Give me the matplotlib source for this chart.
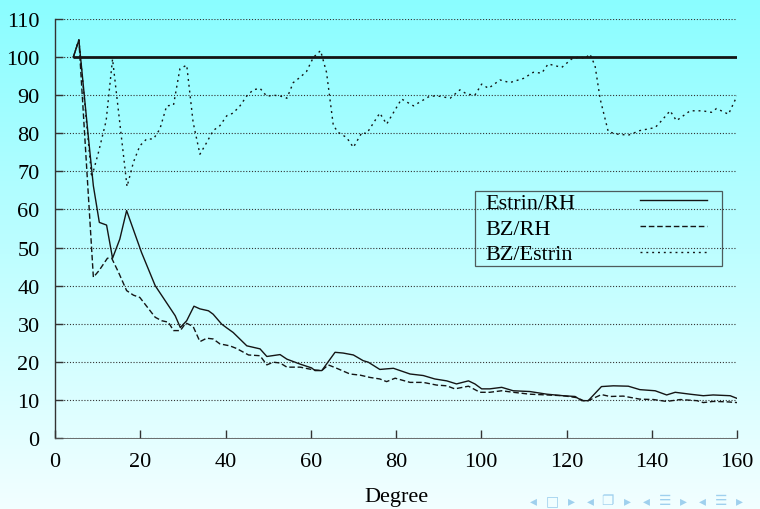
import numpy as np
import matplotlib
matplotlib.use("Agg")
import matplotlib.pyplot as plt
from matplotlib.lines import Line2D

# ---------------- data ----------------
estrin_rh_x = [4.3, 5.6, 7.8, 9.0, 10.4, 12.1, 13.5, 15.2, 16.8, 20.3, 23.5, 28.2, 29.4,
               30.9, 32.6, 34.0, 36.0, 37.1, 39.1, 40.3, 41.8, 45.0, 48.1, 49.7, 52.8,
               54.4, 57.5, 60.2, 61.0, 62.6, 65.7, 67.6, 70.0, 72.3, 73.5, 76.2, 79.4,
               83.3, 86.4, 89.1, 91.9, 94.2, 97.0, 98.5, 100.1, 102.0, 104.8, 107.5,
               111.4, 115.4, 119.2, 122.0, 123.6, 125.1, 128.2, 131.0, 134.5, 137.2,
               140.8, 143.5, 145.5, 149.0, 152.1, 154.4, 158.4, 160.0]
estrin_rh_y = [100.0, 104.5, 79.3, 66.2, 56.6, 55.9, 47.2, 52.2, 59.7, 48.7, 40.0, 32.1, 29.0,
               30.8, 34.6, 33.9, 33.4, 32.5, 29.9, 28.9, 27.7, 24.2, 23.4, 21.4, 21.9,
               20.7, 19.4, 18.4, 17.7, 17.7, 22.5, 22.3, 21.8, 20.3, 19.9, 18.0, 18.3,
               16.8, 16.4, 15.5, 15.0, 14.2, 15.0, 14.2, 12.9, 12.9, 13.3, 12.4,
               12.2, 11.5, 11.1, 10.9, 9.8, 9.8, 13.5, 13.7, 13.6, 12.7,
               12.4, 11.3, 12.0, 11.5, 11.1, 11.3, 11.1, 10.4]

bz_rh_x = [4.3, 5.6, 9.0, 10.3, 12.3, 13.3, 14.9, 16.8, 18.4, 19.9, 23.5, 25.0, 26.6, 27.8,
           29.4, 30.7, 32.4, 34.0, 35.6, 37.1, 38.7, 41.0, 42.6, 45.4, 48.1, 49.7, 51.2,
           52.8, 54.4, 57.5, 60.6, 62.6, 64.1, 66.1, 69.2, 71.6, 73.9, 76.2, 77.8, 79.8,
           83.3, 86.4, 89.5, 91.9, 93.8, 97.0, 99.7, 102.0, 104.8, 107.5, 111.4, 115.4,
           119.2, 122.4, 124.0, 125.1, 128.2, 130.2, 133.3, 137.2, 140.4, 143.5, 146.7,
           150.6, 152.1, 154.4, 157.6, 160.0]
bz_rh_y = [100.0, 104.5, 42.2, 43.9, 47.2, 47.2, 43.5, 38.7, 37.5, 36.9, 31.7, 30.8, 30.4, 28.2,
           28.2, 30.2, 29.3, 25.3, 26.2, 26.0, 24.7, 24.2, 23.5, 21.8, 21.6, 19.2, 19.9,
           19.7, 18.6, 18.6, 17.9, 17.7, 19.2, 18.3, 16.8, 16.5, 15.9, 15.5, 14.8, 15.7,
           14.6, 14.6, 13.9, 13.7, 12.9, 13.6, 12.0, 12.0, 12.4, 12.0, 11.5, 11.3,
           11.1, 10.6, 9.8, 9.8, 11.4, 10.9, 11.0, 10.2, 10.1, 9.6, 10.1,
           9.8, 9.3, 9.6, 9.5, 9.3]

bz_estrin_x = [4.3, 5.6, 8.6, 10.2, 12.0, 13.5, 16.9, 18.4, 19.9, 21.5, 23.1, 24.6, 26.2,
               27.8, 29.3, 30.9, 32.4, 34.0, 35.6, 37.1, 38.7, 40.3, 41.8, 43.4, 45.0,
               46.5, 48.1, 49.7, 51.2, 52.8, 54.4, 55.9, 57.5, 59.0, 60.6, 62.3, 63.7,
               65.3, 66.5, 68.4, 70.0, 72.0, 73.1, 76.2, 77.8, 81.3, 84.1, 88.0, 90.3,
               92.7, 95.0, 96.6, 98.5, 100.1, 101.7, 104.4, 106.7, 109.9, 112.2, 114.2,
               115.7, 118.9, 121.2, 123.2, 124.3, 125.5, 126.7, 127.9, 129.8, 131.8,
               134.5, 137.2, 140.8, 142.3, 144.3, 145.8, 149.0, 151.9, 154.0, 155.2,
               158.0, 160.0]
bz_estrin_y = [100.0, 104.5, 68.4, 75.0, 83.3, 99.5, 66.0, 72.4, 76.7, 78.5, 78.5, 81.1, 87.2,
               87.4, 96.9, 97.9, 82.9, 74.5, 77.6, 80.7, 82.0, 84.6, 85.3, 87.2, 89.8,
               91.4, 91.8, 89.7, 90.0, 89.8, 89.2, 93.3, 94.7, 96.2, 99.9, 101.7, 96.0,
               82.0, 80.2, 78.9, 76.3, 80.2, 79.9, 85.3, 82.4, 89.0, 87.2, 89.8, 89.7,
               89.2, 91.4, 90.3, 90.0, 92.9, 91.8, 94.0, 93.3, 94.4, 96.0, 95.8,
               98.2, 97.3, 99.5, 100.1, 99.6, 100.8, 97.7, 89.0, 80.4, 79.8,
               79.5, 80.7, 81.5, 83.3, 85.9, 83.3, 85.9, 85.9, 85.5, 86.5,
               85.0, 89.8]

ref_x = [4.3, 160.0]
ref_y = [100.0, 100.0]

labels = ["Estrin/RH", "BZ/RH", "BZ/Estrin"]
x_ticks = [0, 20, 40, 60, 80, 100, 120, 140, 160]
y_ticks = [0, 10, 20, 30, 40, 50, 60, 70, 80, 90, 100, 110]

# ---------------- figure ----------------
SERIF = ["Liberation Serif", "DejaVu Serif"]
FS = 16
ink = "#151515"
DASH = (0, (4.0, 2.0))
DOT = (0, (1.4, 2.8))

fig = plt.figure(figsize=(7.6, 5.1), dpi=100)

# background gradient (beamer style)
bg = fig.add_axes([0, 0, 1, 1], zorder=-10)
n = 256
t = np.linspace(0, 1, n)[:, None]
top = np.array([138, 253, 255]) / 255.0
bot = np.array([242, 255, 255]) / 255.0
grad = top[None, None, :] * (1 - t[:, :, None]) + bot[None, None, :] * t[:, :, None]
grad = np.repeat(grad, 4, axis=1)
bg.imshow(grad, aspect="auto", extent=[0, 1, 0, 1])
bg.set_axis_off()

ax = fig.add_axes([55 / 760, 1 - 439 / 510, (737 - 55) / 760, (439 - 20) / 510])
ax.set_facecolor("none")
ax.set_xlim(0, 160)
ax.set_ylim(0, 110)

# horizontal dotted grid
for yv in y_ticks:
    ax.axhline(yv, color="#333333", lw=0.8, ls=(0, (1.0, 1.6)), zorder=1)

ax.plot(ref_x, ref_y, color=ink, lw=2.0, zorder=3, solid_capstyle="butt")
ax.plot(estrin_rh_x, estrin_rh_y, color=ink, lw=1.0, zorder=4)
ax.plot(bz_rh_x, bz_rh_y, color=ink, lw=1.0, ls=DASH, zorder=4)
ax.plot(bz_estrin_x, bz_estrin_y, color=ink, lw=1.0, ls=DOT, zorder=4)

for s in ["top", "right"]:
    ax.spines[s].set_visible(False)
ax.spines["left"].set_color("#333333")
ax.spines["left"].set_linewidth(1.0)
ax.spines["bottom"].set_color("#555555")
ax.spines["bottom"].set_linewidth(0.6)

ax.set_xticks(x_ticks)
ax.set_yticks(y_ticks)
ax.tick_params(axis="both", direction="in", length=6, width=1.0, color="#333333",
               labelcolor="black")
ax.tick_params(axis="y", pad=11)
ax.tick_params(axis="x", pad=10)
for lab in ax.get_xticklabels() + ax.get_yticklabels():
    lab.set_fontfamily(SERIF)
    lab.set_fontsize(FS)

ax.set_xlabel("Degree", fontfamily=SERIF, fontsize=FS, color="black")
ax.xaxis.set_label_coords(0.5, -0.118)

# legend: labels left-aligned in a framed box, line samples on the right
x0 = (475 - 55) / 682
w = (722 - 475) / 682
ytop = (439 - 192) / 419
BP = 0.05
LS = 0.24
text_handles = [Line2D([], [], color="none") for _ in labels]
legA = ax.legend(text_handles, labels, loc="upper left",
                 bbox_to_anchor=(x0, ytop - 0.2, w, 0.2), mode="expand",
                 borderaxespad=0, handlelength=0, handletextpad=0.4,
                 borderpad=BP, labelspacing=LS, frameon=True, fancybox=False,
                 prop={"family": SERIF, "size": FS})
legA.get_frame().set_edgecolor("#333333")
legA.get_frame().set_linewidth(0.9)
legA.get_frame().set_facecolor("none")
legA.set_zorder(5)
ax.add_artist(legA)

line_handles = [Line2D([], [], color=ink, lw=1.0),
                Line2D([], [], color=ink, lw=1.0, ls=DASH),
                Line2D([], [], color=ink, lw=1.0, ls=DOT)]
xr = (707 - 55 + BP * FS * 100 / 72) / 682
legB = ax.legend(line_handles, [" "] * 3, loc="upper right",
                 bbox_to_anchor=(xr, ytop), borderaxespad=0, markerfirst=False,
                 handlelength=3.0, handletextpad=0, borderpad=BP, labelspacing=LS,
                 frameon=False, prop={"family": SERIF, "size": FS})
legB.set_zorder(5)

# beamer navigation symbols
nav = [("◂", 533), ("□", 552), ("▸", 571), ("◂", 590), ("❐", 607), ("▸", 627),
       ("◂", 646), ("☰", 665), ("▸", 683), ("◂", 702), ("☰", 721), ("▸", 739)]
for ch, px in nav:
    fig.text(px / 760, 1 - 501 / 510, ch, ha="center", va="center", fontsize=10,
             color="#9fd0ee", family=["DejaVu Sans", "Noto Sans"])

fig.savefig("out.png", dpi=100)
